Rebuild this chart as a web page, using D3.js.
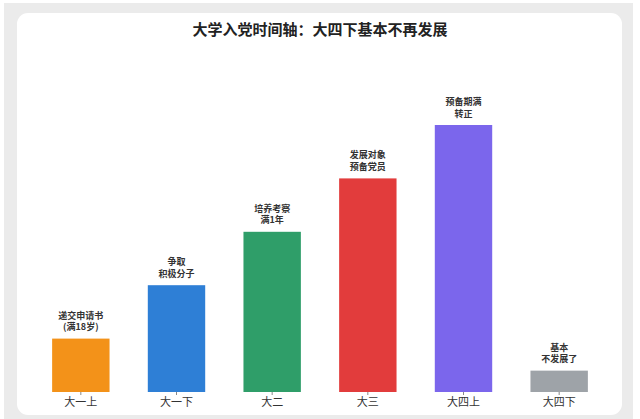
<!DOCTYPE html>
<html><head><meta charset="utf-8">
<script src="https://cdn.jsdelivr.net/npm/d3@7"></script>
<style>
html,body{margin:0;padding:0;background:#fff;}
svg{display:block;font-family:"Noto Sans CJK SC","Noto Sans",sans-serif;}
</style></head>
<body>
<svg id="chart" width="640" height="419"></svg>
<script>
const title = "大学入党时间轴：大四下基本不再发展";
const categories = ["大一上","大一下","大二","大三","大四上","大四下"];
const values = [1, 2, 3, 4, 5, 0.4];
const notes = [["递交申请书","(满18岁)"],["争取","积极分子"],["培养考察","满1年"],["发展对象","预备党员"],["预备期满","转正"],["基本","不发展了"]];
const colors = ["#f39219","#2e7fd6","#2f9e69","#e23c3c","#7b66ec","#9ea3a8"];

const svg = d3.select("#chart");
svg.append("rect").attr("x",4).attr("y",3).attr("width",629).attr("height",420).attr("fill","#ebebeb");
svg.append("rect").attr("x",17).attr("y",13).attr("width",605).attr("height",402).attr("rx",11).attr("fill","#fff");

svg.append("text").attr("x",320).attr("y",35).attr("text-anchor","middle")
  .attr("font-size",15).attr("font-weight","bold").attr("fill","#222").text(title);

const x = d3.scaleBand().domain(categories).range([33,607]).paddingInner(0.4).paddingOuter(0.2);
const y = d3.scaleLinear().domain([0,6]).range([392,71.6]);

const data = categories.map((c,i)=>({c, v:values[i], note:notes[i], color:colors[i]}));

svg.selectAll("rect.bar").data(data).join("rect").attr("class","bar")
  .attr("x",d=>x(d.c)).attr("width",x.bandwidth())
  .attr("y",d=>y(d.v)).attr("height",d=>y(0)-y(d.v)).attr("fill",d=>d.color);

const lab = svg.selectAll("text.note").data(data).join("text").attr("class","note")
  .attr("text-anchor","middle").attr("font-size",9).attr("font-weight","bold").attr("fill","#333");
lab.each(function(d){
  const t = d3.select(this);
  const cx = x(d.c)+x.bandwidth()/2;
  const base = y(d.v)-8.5;
  t.append("tspan").attr("x",cx).attr("y",base-11.5).text(d.note[0]);
  t.append("tspan").attr("x",cx).attr("y",base).text(d.note[1]);
});

const ax = svg.append("g").attr("transform","translate(0,392)")
  .call(d3.axisBottom(x).tickSize(3).tickPadding(3));
ax.select(".domain").remove();
ax.selectAll(".tick line").attr("stroke","#888");
ax.selectAll(".tick text").attr("font-size",11).attr("fill","#333")
  .attr("font-family","'Noto Sans CJK SC',sans-serif");
</script>
</body></html>
